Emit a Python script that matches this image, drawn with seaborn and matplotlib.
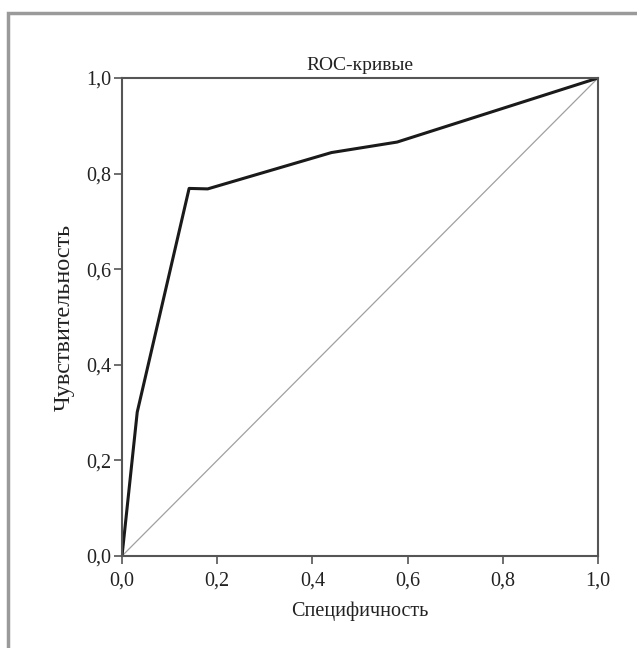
import matplotlib
matplotlib.use("Agg")
import matplotlib.pyplot as plt
from matplotlib.patches import Rectangle
import pandas as pd
import seaborn as sns

# ROC curve points (1 - specificity, sensitivity)
fpr = [0.0, 0.032, 0.141, 0.180, 0.440, 0.578, 1.0]
tpr = [0.0, 0.301, 0.769, 0.768, 0.844, 0.866, 1.0]
ref_line = [0.0, 1.0]
tick_vals = [0.0, 0.2, 0.4, 0.6, 0.8, 1.0]
tick_labels = ["0,0", "0,2", "0,4", "0,6", "0,8", "1,0"]

sns.set_style("ticks")
plt.rcParams['font.family'] = ['Liberation Serif', 'DejaVu Serif']

df = pd.DataFrame({"fpr": fpr, "tpr": tpr})

fig = plt.figure(figsize=(6.37, 6.48), dpi=100)
ax = fig.add_axes([122 / 637, 1 - 556 / 648, 476 / 637, 478 / 648])

# outer frame
fig.add_artist(Rectangle((8 / 637, -0.1), 1.2, 1 - 13 / 648 + 0.1,
                         transform=fig.transFigure, fill=False,
                         edgecolor="#9a9a9a", linewidth=2.5))

sns.lineplot(x=ref_line, y=ref_line, ax=ax, color="#a0a0a0", linewidth=0.9)
sns.lineplot(data=df, x="fpr", y="tpr", sort=False, estimator=None, ax=ax,
             color="#1a1a1a", linewidth=2.2)

ax.set_xlim(0, 1)
ax.set_ylim(0, 1)
ax.set_xticks(tick_vals)
ax.set_xticklabels(tick_labels)
ax.set_yticks(tick_vals)
ax.set_yticklabels(tick_labels)
ax.tick_params(direction="out", length=6, width=1.2, color="#555555",
               labelsize=14.5, labelcolor="#222222")
ax.tick_params(axis="x", pad=5)
ax.tick_params(axis="y", pad=2)
for s in ax.spines.values():
    s.set_color("#555555")
    s.set_linewidth(1.5)

ax.set_title("ROC-кривые", fontsize=14, pad=6, color="#222222")
ax.set_xlabel("Специфичность", fontsize=14.5, labelpad=8, color="#222222")
ax.set_ylabel("Чувствительность", fontsize=17.5, labelpad=8, color="#222222")

fig.savefig("out.png", dpi=100, facecolor="white")
